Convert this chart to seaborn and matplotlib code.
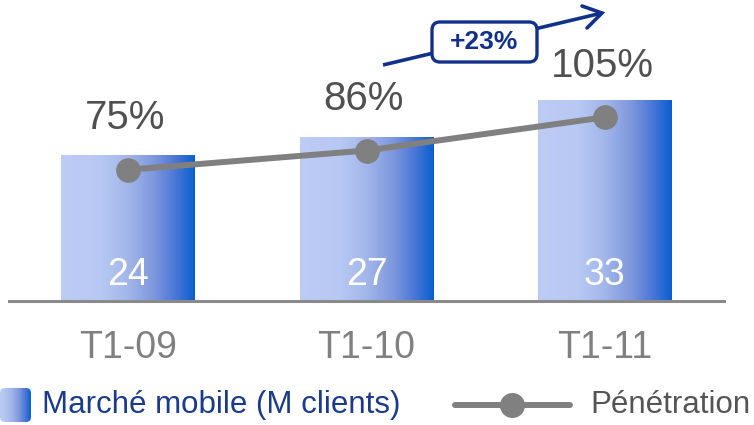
import numpy as np
import pandas as pd
import matplotlib.pyplot as plt
import seaborn as sns
from matplotlib.colors import LinearSegmentedColormap
from matplotlib.patches import FancyBboxPatch

# chart data
periods = ['T1-09', 'T1-10', 'T1-11']
clients = [24, 27, 33]          # Marché mobile (M clients)
penetration = [75, 86, 105]     # Pénétration (%)
growth_label = '+23%'

sns.set_style('white')
plt.rcParams['font.family'] = ['Liberation Sans', 'DejaVu Sans']

blue_grad = LinearSegmentedColormap.from_list(
    'bar_grad', [(0.0, '#bdccf5'), (0.3, '#b7c8f3'), (0.5, '#a2b6ea'),
                 (0.7, '#7d97dd'), (0.85, '#4c78d6'), (1.0, '#0a5fd0')])
grad_img = np.linspace(0, 1, 256).reshape(1, -1)

W, H = 754, 425
fig = plt.figure(figsize=(W / 100, H / 100), dpi=100)
ax = fig.add_axes([9 / W, 124 / H, 715 / W, 301 / H])

df = pd.DataFrame({'period': periods, 'clients': clients})
sns.barplot(data=df, x='period', y='clients', ax=ax, width=0.56, color='#b3c4f0', zorder=2)

# replace flat fill by horizontal gradient clipped to each bar
for p in ax.patches:
    x0, y0 = p.get_x(), p.get_y()
    w, h = p.get_width(), p.get_height()
    im = ax.imshow(grad_img, cmap=blue_grad, aspect='auto', extent=[x0, x0 + w, y0, y0 + h],
                   zorder=2, interpolation='bilinear')
    im.set_clip_path(p)
    p.set_facecolor('none')
    p.set_edgecolor('none')

for i, v in enumerate(clients):
    ax.text(i, 26 / 6.08, str(v), ha='center', va='center', color='white', fontsize=27, zorder=5)

ax.set_xlim(-0.5, 2.5)
ax.set_ylim(0, 301 / 6.08)
ax.set_xlabel('')
ax.set_ylabel('')
ax.set_yticks([])
ax.tick_params(axis='x', length=0, pad=21, labelsize=27, labelcolor='#808080')
for s in ['top', 'left', 'right']:
    ax.spines[s].set_visible(False)
ax.spines['bottom'].set_color('#8a8a8a')
ax.spines['bottom'].set_linewidth(2.2)
ax.patch.set_alpha(0)

# penetration line on a secondary scale
ax2 = ax.twinx()
sns.lineplot(x=np.arange(len(periods)), y=penetration, ax=ax2, color='#808080', linewidth=4.3,
             marker='o', markersize=17, markeredgecolor='#808080', zorder=4)
ax2.set_ylim(0, 301 / 1.75)
ax2.set_xlim(-0.5, 2.5)
ax2.set_yticks([])
ax2.set_ylabel('')
for s in ax2.spines.values():
    s.set_visible(False)
for i, v in enumerate(penetration):
    ax2.annotate(f'{v}%', (i, v), xytext=(-2, 37), textcoords='offset points',
                 ha='center', va='center', fontsize=29, color='#505050')

# overlay in pixel units for arrow, label box and legend
ov = fig.add_axes([0, 0, 1, 1], zorder=10)
ov.set_xlim(0, W)
ov.set_ylim(H, 0)
ov.set_axis_off()
ov.patch.set_alpha(0)

navy = '#12318a'
ov.plot([383, 602], [65, 13], color=navy, lw=2.6, solid_capstyle='butt')
ov.plot([582, 602, 587], [6, 13, 28], color=navy, lw=2.6, solid_capstyle='round',
        solid_joinstyle='miter')
ov.add_patch(FancyBboxPatch((432, 22), 105, 40, boxstyle='round,pad=0,rounding_size=8',
                            fc='white', ec=navy, lw=2.4, zorder=3))
ov.text(484.5, 42, growth_label, ha='center', va='center', fontsize=19,
        fontweight='bold', color=navy, zorder=4)

# legend drawn by hand
key = FancyBboxPatch((0, 388), 31, 34, boxstyle='round,pad=0,rounding_size=5',
                     fc='none', ec='none')
ov.add_patch(key)
kim = ov.imshow(grad_img, cmap=blue_grad, aspect='auto', extent=[-8, 31, 422, 388],
                interpolation='bilinear')
kim.set_clip_path(key)
ov.set_xlim(0, W)
ov.set_ylim(H, 0)
ov.text(42, 405, 'Marché mobile (M clients)', ha='left', va='center',
        fontsize=22.5, color='#1a3a8c')
ov.plot([455, 570], [405, 405], color='#808080', lw=4.3)
ov.plot([512], [405], marker='o', markersize=17, color='#808080')
ov.text(590, 405, 'Pénétration', ha='left', va='center', fontsize=22.5, color='#555555')

fig.savefig('out.png', dpi=100)
